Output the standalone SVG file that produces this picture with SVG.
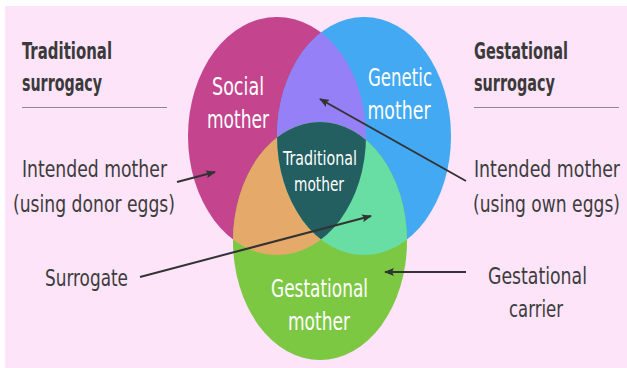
<svg xmlns="http://www.w3.org/2000/svg" width="627" height="368" viewBox="0 0 627 368">
  <style>
    .hdr { font-family: "Liberation Sans Narrow", "DejaVu Sans Condensed", "Liberation Sans", sans-serif; font-weight: bold; font-size: 23px; fill: #3a3a3a; }
    .lbl { font-family: "Liberation Sans Narrow", "DejaVu Sans Condensed", "Liberation Sans", sans-serif; font-size: 23px; fill: #3c3c3c; }
    .lbl-n { font-family: "Liberation Sans Narrow", "DejaVu Sans Condensed", "Liberation Sans", sans-serif; font-size: 19px; fill: #3c3c3c; }
    .inner { font-family: "Liberation Sans Narrow", "DejaVu Sans Condensed", "Liberation Sans", sans-serif; font-size: 25px; fill: #ffffff; text-anchor: middle; }
    .inner-s { font-family: "Liberation Sans Narrow", "DejaVu Sans Condensed", "Liberation Sans", sans-serif; font-size: 20px; fill: #ffffff; text-anchor: middle; }
    .rule { stroke: #8a8a8a; stroke-width: 1; }
    .arrow { stroke: #333333; stroke-width: 2; fill: none; marker-end: url(#ah); }
  </style>
  <defs>
    <marker id="ah" viewBox="0 0 10 8" refX="9" refY="4" markerWidth="5" markerHeight="4" orient="auto" markerUnits="strokeWidth">
      <path d="M0,0 L10,4 L0,8 L2,4 Z" fill="#333333"/>
    </marker>
    <ellipse id="eSocial" cx="277" cy="136" rx="89" ry="119"/>
    <ellipse id="eGenetic" cx="364" cy="136" rx="87" ry="119"/>
    <ellipse id="eGest" cx="320" cy="241" rx="87" ry="119"/>
    <clipPath id="cSocial"><use href="#eSocial"/></clipPath>
    <clipPath id="cGenetic"><use href="#eGenetic"/></clipPath>
  </defs>

  <rect x="0" y="0" width="627" height="368" fill="#ffffff"/>
  <rect x="5" y="6" width="622" height="362" fill="#fde4f9"/>

  <g id="social-mother">
    <use href="#eSocial" fill="#c4448e"/>
  </g>
  <g id="genetic-mother">
    <use href="#eGenetic" fill="#42a9f2"/>
  </g>
  <g id="gestational-mother">
    <use href="#eGest" fill="#7dc843"/>
  </g>
  <g id="overlaps">
    <use href="#eGenetic" fill="#9580f7" clip-path="url(#cSocial)"/>
    <use href="#eGest" fill="#e5aa6a" clip-path="url(#cSocial)"/>
    <use href="#eGest" fill="#68dea5" clip-path="url(#cGenetic)"/>
    <g clip-path="url(#cSocial)">
      <use href="#eGest" fill="#235e60" clip-path="url(#cGenetic)"/>
    </g>
  </g>

  <g id="ellipse-labels">
    <text class="inner" x="238" y="95" textLength="52" lengthAdjust="spacingAndGlyphs">Social</text>
    <text class="inner" x="238" y="128" textLength="62" lengthAdjust="spacingAndGlyphs">mother</text>
    <text class="inner" x="400" y="86" textLength="64" lengthAdjust="spacingAndGlyphs">Genetic</text>
    <text class="inner" x="399" y="119" textLength="63" lengthAdjust="spacingAndGlyphs">mother</text>
    <text class="inner-s" x="320" y="165" textLength="74" lengthAdjust="spacingAndGlyphs">Traditional</text>
    <text class="inner-s" x="319" y="191" textLength="50" lengthAdjust="spacingAndGlyphs">mother</text>
    <text class="inner" x="319.5" y="297" textLength="97" lengthAdjust="spacingAndGlyphs">Gestational</text>
    <text class="inner" x="319" y="330" textLength="62" lengthAdjust="spacingAndGlyphs">mother</text>
  </g>

  <g id="traditional-surrogacy">
    <text class="hdr" x="22" y="59" textLength="90" lengthAdjust="spacingAndGlyphs">Traditional</text>
    <text class="hdr" x="22" y="91" textLength="80" lengthAdjust="spacingAndGlyphs">surrogacy</text>
    <line class="rule" x1="22" y1="107.5" x2="167" y2="107.5"/>
  </g>
  <g id="gestational-surrogacy">
    <text class="hdr" x="474" y="59" textLength="94" lengthAdjust="spacingAndGlyphs">Gestational</text>
    <text class="hdr" x="474" y="91" textLength="81" lengthAdjust="spacingAndGlyphs">surrogacy</text>
    <line class="rule" x1="474" y1="107.5" x2="619" y2="107.5"/>
  </g>

  <g id="intended-mother-donor">
    <text class="lbl" x="22" y="177" textLength="145" lengthAdjust="spacingAndGlyphs">Intended mother</text>
    <text class="lbl" x="13" y="212" textLength="162" lengthAdjust="spacingAndGlyphs">(using donor eggs)</text>
  </g>
  <g id="surrogate">
    <text class="lbl" x="45" y="286" textLength="83" lengthAdjust="spacingAndGlyphs">Surrogate</text>
  </g>
  <g id="intended-mother-own">
    <text class="lbl-n" transform="translate(474,177) scale(1,1.21)" x="0" y="0" textLength="146" lengthAdjust="spacingAndGlyphs">Intended mother</text>
    <text class="lbl-n" transform="translate(473,212) scale(1,1.21)" x="0" y="0" textLength="147" lengthAdjust="spacingAndGlyphs">(using own eggs)</text>
  </g>
  <g id="gestational-carrier">
    <text class="lbl" x="488" y="284" textLength="99" lengthAdjust="spacingAndGlyphs">Gestational</text>
    <text class="lbl" x="509" y="317" textLength="54" lengthAdjust="spacingAndGlyphs">carrier</text>
  </g>

  <g id="connectors">
    <line class="arrow" x1="177" y1="182" x2="215" y2="172"/>
    <line class="arrow" x1="466" y1="181" x2="320" y2="99"/>
    <line class="arrow" x1="140" y1="277" x2="371" y2="216"/>
    <line class="arrow" x1="466" y1="272" x2="385" y2="272"/>
  </g>
</svg>
